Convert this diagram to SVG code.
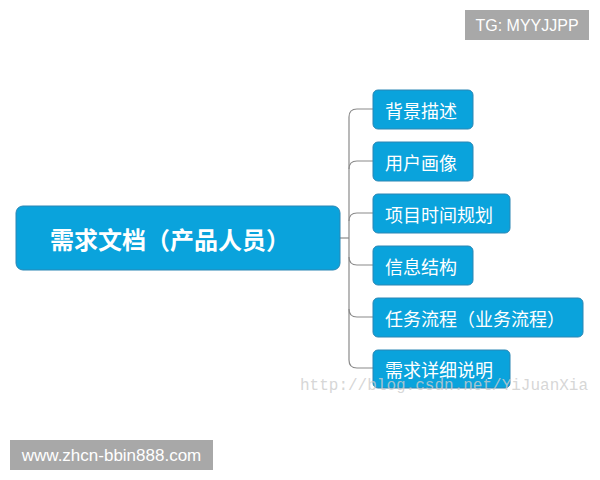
<svg xmlns="http://www.w3.org/2000/svg" width="600" height="480" viewBox="0 0 600 480">
<style>
.node{fill:#0aa3dc;stroke:#2a86b4;stroke-width:1}
.t{fill:#fff;font-family:"Noto Sans CJK SC","Liberation Sans",sans-serif;dominant-baseline:central}
.c{fill:none;stroke:#8a8a8a;stroke-width:1.2}
.tag{fill:#a8a8a8}
.tt{fill:#fff;font-family:"Liberation Sans",sans-serif;dominant-baseline:central}
</style>
<rect width="600" height="480" fill="#fff"/>
<g id="connectors">
<path class="c" d="M340 238H349"/>
<path class="c" d="M373 109H357Q349 109 349 117V360Q349 368 357 368H373"/>
<path class="c" d="M373 161H357Q349 161 349 169"/>
<path class="c" d="M373 213H357Q349 213 349 221"/>
<path class="c" d="M373 265H357Q349 265 349 257"/>
<path class="c" d="M373 317H357Q349 317 349 309"/>
</g>
<g id="main"><rect class="node" x="16" y="206" width="324" height="64" rx="7"/><text class="t" x="50" y="238" font-size="24" font-weight="bold">需求文档（产品人员）</text></g>
<g id="n1"><rect class="node" x="373" y="90" width="100" height="39" rx="5"/><text class="t" x="385" y="109.5" font-size="18">背景描述</text></g>
<g id="n2"><rect class="node" x="373" y="142" width="100" height="39" rx="5"/><text class="t" x="385" y="161.5" font-size="18">用户画像</text></g>
<g id="n3"><rect class="node" x="373" y="194" width="137" height="39" rx="5"/><text class="t" x="385" y="213.5" font-size="18">项目时间规划</text></g>
<g id="n4"><rect class="node" x="373" y="246" width="100" height="39" rx="5"/><text class="t" x="385" y="265.5" font-size="18">信息结构</text></g>
<g id="n5"><rect class="node" x="373" y="298" width="210" height="39" rx="5"/><text class="t" x="385" y="317.5" font-size="18">任务流程（业务流程）</text></g>
<g id="n6"><rect class="node" x="373" y="350" width="137" height="38" rx="5"/><text class="t" x="385" y="369" font-size="18">需求详细说明</text></g>
<text x="300" y="390" font-family="Liberation Mono,monospace" font-size="16" fill="#cccccc" fill-opacity="0.8">http://blog.csdn.net/YiJuanXia</text>
<g id="tg"><rect class="tag" x="465" y="10" width="124" height="30"/><text class="tt" x="527" y="25" text-anchor="middle" font-size="16">TG: MYYJJPP</text></g>
<g id="site"><rect class="tag" x="10" y="440" width="203" height="30"/><text class="tt" x="111.5" y="455" text-anchor="middle" font-size="17">www.zhcn-bbin888.com</text></g>
</svg>
